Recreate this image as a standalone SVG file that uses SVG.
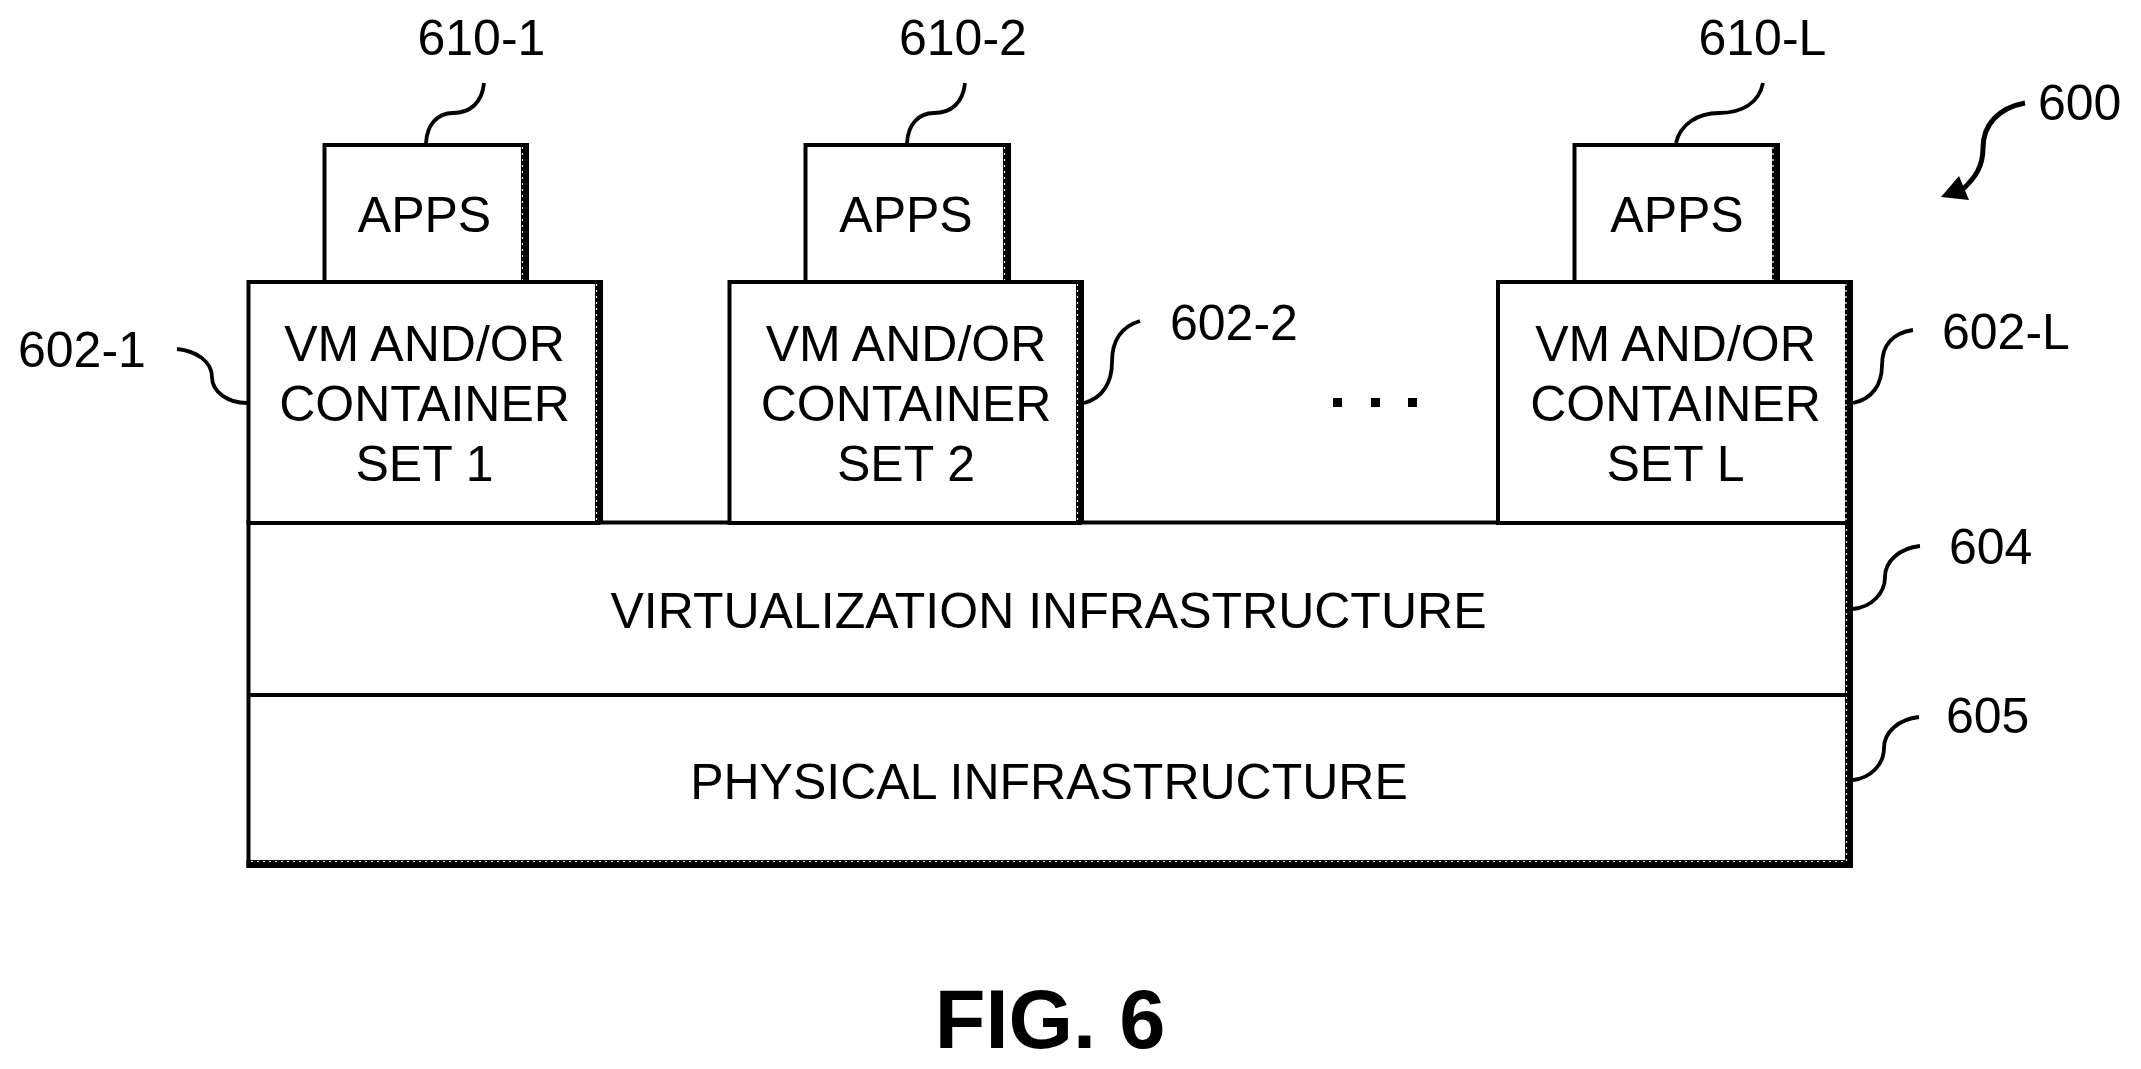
<svg xmlns="http://www.w3.org/2000/svg" width="2141" height="1069" viewBox="0 0 2141 1069">
<style>
text{font-family:"Liberation Sans",Arial,sans-serif;fill:#000;font-size:50px}
.m{text-anchor:middle}
.b{fill:#fff;stroke:#000;stroke-width:4}
.t{fill:#000;stroke:none}
.w{fill:none;stroke:#fff;stroke-width:1.2;stroke-dasharray:2 4}
.l{fill:none;stroke:#000;stroke-width:3.8}
.fig{font-weight:bold;font-size:83px}
</style>
<defs>
<marker id="ah" markerUnits="userSpaceOnUse" markerWidth="34" markerHeight="34" refX="21" refY="14" orient="0"><path d="M0 21L18 0L28 24Z" fill="#000"/></marker>
</defs>
<rect width="2141" height="1069" fill="#fff"/>
<g id="base">
<rect class="b" x="248.500" y="522.500" width="1601" height="343"/>
<path d="M247 695H1848" stroke="#000" stroke-width="4" fill="none"/>
<rect class="t" x="1845" y="521" width="8" height="347"/>
<rect class="t" x="246.500" y="860" width="1606.500" height="8"/>
<path class="w" d="M1846.500 523V861.500H250"/>
</g>
<g id="virtualization"><text class="m" x="1048.500" y="628">VIRTUALIZATION INFRASTRUCTURE</text></g>
<g id="physical"><text class="m" x="1049" y="799">PHYSICAL INFRASTRUCTURE</text></g>
<g id="apps-1">
<rect class="b" x="324.500" y="145" width="200" height="137"/>
<rect class="t" x="521" y="143" width="8" height="139"/>
<path class="w" d="M522.500 147V280"/>
<text class="m" x="424.500" y="232">APPS</text>
</g>
<g id="vm-1">
<rect class="b" x="248.500" y="282" width="350" height="241"/>
<rect class="t" x="595" y="280" width="8" height="243"/>
<path class="w" d="M596.500 284V521"/>
<text class="m" x="424.500" y="361">VM AND/OR</text>
<text class="m" x="424.500" y="421">CONTAINER</text>
<text class="m" x="424.500" y="481">SET 1</text>
</g>
<g id="apps-2">
<rect class="b" x="805.500" y="145" width="202" height="137"/>
<rect class="t" x="1003" y="143" width="8" height="139"/>
<path class="w" d="M1004.500 147V280"/>
<text class="m" x="906" y="232">APPS</text>
</g>
<g id="vm-2">
<rect class="b" x="729.500" y="282" width="350" height="241"/>
<rect class="t" x="1076" y="280" width="8" height="243"/>
<path class="w" d="M1077.500 284V521"/>
<text class="m" x="906" y="361">VM AND/OR</text>
<text class="m" x="906" y="421">CONTAINER</text>
<text class="m" x="906" y="481">SET 2</text>
</g>
<g id="apps-l">
<rect class="b" x="1574.500" y="145" width="201" height="137"/>
<rect class="t" x="1772" y="143" width="8" height="139"/>
<path class="w" d="M1773 147V280"/>
<text class="m" x="1677" y="232">APPS</text>
</g>
<g id="vm-l">
<rect class="b" x="1498" y="282" width="350" height="241"/>
<rect class="t" x="1845" y="280" width="8" height="243"/>
<path class="w" d="M1846 284V521"/>
<text class="m" x="1675.500" y="361">VM AND/OR</text>
<text class="m" x="1675.500" y="421">CONTAINER</text>
<text class="m" x="1675.500" y="481">SET L</text>
</g>
<g id="ellipsis"><rect class="t" x="1333" y="398" width="9" height="9"/><rect class="t" x="1371" y="398" width="9" height="9"/><rect class="t" x="1408" y="398" width="9" height="9"/></g>
<g id="connectors">
<path class="l" d="M484 83C482 103 470 113 453 113C437 113 427 125 426 143"/>
<path class="l" d="M965 83C963 103 951 113 934 113C918 113 908 125 907 143"/>
<path class="l" d="M1763 83C1759 103 1742 113 1719 113C1697 113 1680 125 1676 143"/>
<path class="l" d="M177 349C197 351 212 362 212 377C212 392 228 403 247 403"/>
<path class="l" d="M1140 321C1120 327 1112 342 1112 362C1112 382 1103 398 1084 403"/>
<path class="l" d="M1913 330C1893 333 1882 345 1882 365C1882 385 1872 399 1853 403"/>
<path class="l" d="M1920 546C1900 548 1885 561 1885 577C1885 593 1872 607 1853 609"/>
<path class="l" d="M1919 717C1899 719 1884 732 1884 748C1884 764 1871 778 1853 780"/>
<path d="M2025 103C1998 108 1983 125 1983 148C1983 167 1975 178 1962 190" fill="none" stroke="#000" stroke-width="5" marker-end="url(#ah)"/>
</g>
<g id="labels">
<text x="417.500" y="55">610-1</text>
<text x="899" y="55">610-2</text>
<text x="1698.500" y="55">610-L</text>
<text x="18" y="367">602-1</text>
<text x="1170" y="339.500">602-2</text>
<text x="1942" y="349">602-L</text>
<text x="2038" y="120">600</text>
<text x="1949" y="564">604</text>
<text x="1946" y="733">605</text>
</g>
<g id="caption"><text class="m fig" x="1050" y="1048">FIG. 6</text></g>
</svg>
